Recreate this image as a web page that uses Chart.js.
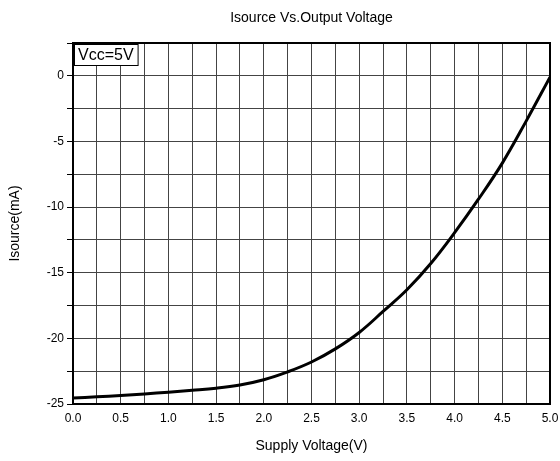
<!DOCTYPE html>
<html>
<head>
<meta charset="utf-8">
<script src="https://cdn.jsdelivr.net/npm/chart.js@4/dist/chart.umd.min.js"></script>
<style>
html,body{margin:0;padding:0;background:#fff;}
#wrap{width:560px;height:461px;}
</style>
</head>
<body>
<div id="wrap"><canvas id="c" width="560" height="461"></canvas></div>
<script>
const voltage = [0, 0.25, 0.5, 0.75, 1.0, 1.25, 1.5, 1.75, 2.0, 2.25, 2.5, 2.75, 3.0, 3.25, 3.5, 3.75, 4.0, 4.25, 4.5, 4.75, 5.0];
const isource = [-24.55, -24.45, -24.35, -24.23, -24.1, -23.96, -23.8, -23.55, -23.15, -22.55, -21.8, -20.8, -19.55, -17.95, -16.3, -14.3, -11.95, -9.4, -6.65, -3.45, -0.1];
const yTickLabels = [0, -5, -10, -15, -20, -25];
const titleText = 'Isource Vs.Output Voltage';
const xTitle = 'Supply Voltage(V)';
const yTitle = 'Isource(mA)';
const noteText = 'Vcc=5V';

const FONT = "'Liberation Sans', Arial, sans-serif";

const framePlugin = {
  id: 'frame',
  afterDraw(chart) {
    const {ctx, chartArea: a} = chart;
    ctx.save();
    ctx.strokeStyle = '#000';
    ctx.lineWidth = 2;
    ctx.strokeRect(a.left, a.top, a.right - a.left, a.bottom - a.top);
    ctx.font = '16px ' + FONT;
    const w = ctx.measureText(noteText).width;
    const bx = a.left + 1, by = a.top + 1, bw = w + 8, bh = 21;
    ctx.fillStyle = '#fff';
    ctx.fillRect(bx, by, bw, bh);
    ctx.lineWidth = 1;
    ctx.strokeRect(bx + 0.5, by + 0.5, bw, bh);
    ctx.fillStyle = '#000';
    ctx.textBaseline = 'middle';
    ctx.fillText(noteText, bx + 4, by + bh / 2 + 1);
    ctx.restore();
  }
};

new Chart(document.getElementById('c'), {
  type: 'line',
  data: {
    datasets: [{
      data: voltage.map((v, i) => ({x: v, y: isource[i]})),
      borderColor: '#000',
      borderWidth: 3,
      pointRadius: 0,
      tension: 0.4,
      fill: false
    }]
  },
  options: {
    responsive: false,
    animation: false,
    layout: {padding: {left: 0, right: 10, top: 0, bottom: 0}},
    plugins: {
      legend: {display: false},
      tooltip: {enabled: false},
      title: {
        display: true,
        text: titleText,
        fullSize: false,
        color: '#000',
        font: {family: FONT, size: 14, weight: 'normal', lineHeight: 1.2},
        padding: {top: 10, bottom: 16.2}
      }
    },
    scales: {
      x: {
        type: 'linear',
        min: 0, max: 5,
        afterFit: s => { s.height = 57; s.paddingLeft = 0; s.paddingRight = 0; },
        ticks: {
          stepSize: 0.25,
          autoSkip: false,
          maxRotation: 0,
          color: '#000',
          padding: 7,
          font: {family: FONT, size: 12},
          callback: v => (Math.abs(v * 2 - Math.round(v * 2)) < 1e-6) ? v.toFixed(1) : ''
        },
        grid: {color: '#444', lineWidth: 1, drawTicks: false},
        border: {display: false},
        title: {
          display: true, text: xTitle, color: '#000',
          font: {family: FONT, size: 14, lineHeight: 1.2},
          padding: {top: 0, bottom: 6}
        }
      },
      y: {
        type: 'linear',
        min: -25, max: 2.5,
        afterFit: s => { s.width = 73; },
        afterBuildTicks: s => { s.ticks = []; for (let v = -25; v <= 2.5001; v += 2.5) s.ticks.push({value: v}); },
        ticks: {
          color: '#000',
          padding: 3,
          font: {family: FONT, size: 12},
          callback: v => yTickLabels.some(t => Math.abs(t - v) < 1e-6) ? String(Math.round(v)) : ''
        },
        grid: {color: '#444', lineWidth: 1, drawTicks: true, tickLength: 6, tickColor: '#000'},
        border: {display: false},
        title: {
          display: true, text: yTitle, color: '#000',
          font: {family: FONT, size: 14, lineHeight: 1.2},
          padding: {top: 7, bottom: 0}
        }
      }
    }
  },
  plugins: [framePlugin]
});
</script>
</body>
</html>
